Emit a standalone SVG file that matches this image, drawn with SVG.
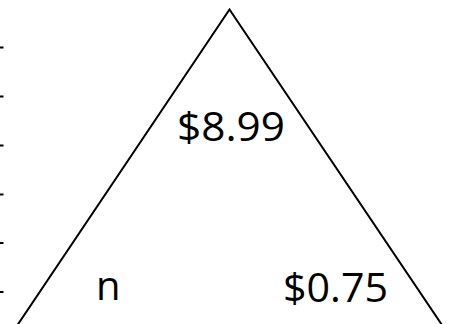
<svg xmlns="http://www.w3.org/2000/svg" width="457" height="324" viewBox="0 0 457 324">
  <style>
    .ln { fill: none; stroke: #000; stroke-width: 2; }
    .tick { stroke: #000; stroke-width: 2; }
    .lbl { font-family: "Open Sans", "Noto Sans", "Liberation Sans", sans-serif; font-size: 40px; fill: #000; }
  </style>
  <rect width="457" height="324" fill="#fff"/>
  <g id="ticks">
    <line class="tick" x1="0" y1="47.5" x2="3.5" y2="47.5"/>
    <line class="tick" x1="0" y1="96.5" x2="3.5" y2="96.5"/>
    <line class="tick" x1="0" y1="145.5" x2="3.5" y2="145.5"/>
    <line class="tick" x1="0" y1="194.5" x2="3.5" y2="194.5"/>
    <line class="tick" x1="0" y1="243" x2="3.5" y2="243"/>
    <line class="tick" x1="0" y1="292" x2="3.5" y2="292"/>
  </g>
  <g id="triangle">
    <polyline class="ln" points="17.5,325 229.5,9.5 442,325"/>
  </g>
  <g id="labels">
    <text class="lbl" x="177" y="141" textLength="108" lengthAdjust="spacingAndGlyphs">$8.99</text>
    <text class="lbl" x="96" y="300">n</text>
    <text class="lbl" x="283" y="302" textLength="105" lengthAdjust="spacingAndGlyphs">$0.75</text>
  </g>
</svg>
